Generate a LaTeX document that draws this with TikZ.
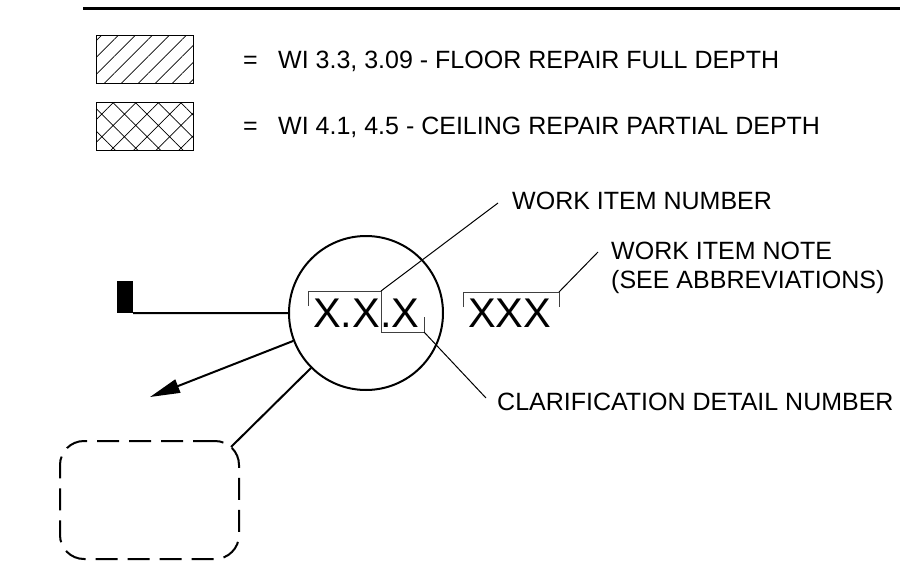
\documentclass[tikz,border=0pt]{standalone}
\usepackage{fontspec}
\setmainfont{Liberation Sans}
\usetikzlibrary{patterns.meta,arrows.meta}

\tikzset{
	legendbox/.style={draw, line width=1pt, minimum width=97pt, minimum height=48pt, inner sep=0pt},
	note/.style={anchor=base west, inner sep=0pt, font=\fontsize{25}{30}\selectfont},
	bigtag/.style={anchor=base west, inner sep=0pt, font=\fontsize{41.5}{42}\selectfont},
	bracket/.style={draw=black!75, line width=1pt},
	leader/.style={line width=1pt},
	heavy/.style={line width=2pt}
}

\begin{document}
\begin{tikzpicture}[x=1pt, y=-1pt]
	\useasboundingbox (0,0) rectangle (900,578);
	\draw [line width=3pt] (83,9) -- (900,9);
	\node [legendbox, pattern={Lines[angle=45,distance=12pt,line width=0.7pt]}] (floorkey) at (144.5,60) {};
	\node [legendbox, pattern={Hatch[angle=45,distance=16pt,line width=0.7pt]}] (ceilkey) at (144.5,126.5) {};
	\node [note] (flooreq) at (243,69) {=};
	\node [note] (ceileq) at (243,135) {=};
	\node [note] (floortext) at (278,69) {WI 3.3, 3.09 - FLOOR REPAIR FULL DEPTH};
	\node [note] (ceiltext) at (278,135) {WI 4.1, 4.5 - CEILING REPAIR PARTIAL DEPTH};

	\node [draw, circle, heavy, minimum size=154pt, inner sep=0pt] (tag) at (366,313) {};
	\node [bigtag] (itemno) at (313,327) {X.X.X};
	\node [bigtag] (itemnote) at (468,327) {XXX};
	\draw [bracket] (308,306) -- (308,291) -- (381,291) -- (381,332) -- (424,332) -- (424,317);
	\draw [bracket] (463,307) -- (463,292) -- (559,292) -- (559,307);
	\coordinate (numcorner) at (381,291);
	\coordinate (detcorner) at (424,332);
	\coordinate (notecorner) at (559,292);

	\node [note] (numtext) at (512,209) {WORK ITEM NUMBER};
	\node [note] (notetext) at (611,259) {WORK ITEM NOTE};
	\node [note] (notesub) at (611,288) {(SEE ABBREVIATIONS)};
	\node [note] (dettext) at (497,410) {CLARIFICATION DETAIL NUMBER};
	\coordinate (numend) at (498,203);
	\coordinate (noteend) at (598,252);
	\coordinate (detend) at (486,398);
	\draw [leader] (numcorner) -- (numend);
	\draw [leader] (notecorner) -- (noteend);
	\draw [leader] (detcorner) -- (detend);

	\node [fill, minimum width=16pt, minimum height=32pt, inner sep=0pt] (flag) at (125,297) {};
	\draw [heavy] (flag.south east) -- (tag.west);
	\coordinate (arrowend) at (150,397);
	\draw [heavy, arrows={-Triangle[length=30pt,width=14pt]}] (tag.201) -- (arrowend);
	\node [draw, heavy, dash pattern=on 22pt off 10pt, rounded corners=24pt, minimum width=179pt, minimum height=118pt, inner sep=0pt] (zone) at (149.5,500) {};
	\coordinate (zonehook) at (231,447);
	\draw [heavy] (tag.225) -- (zonehook);
\end{tikzpicture}
\end{document}
